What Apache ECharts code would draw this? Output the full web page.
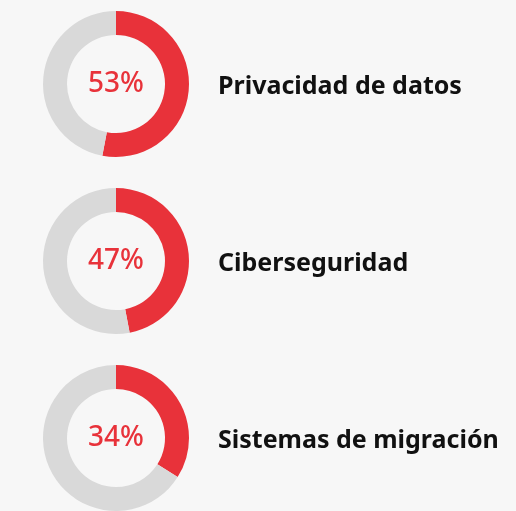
<!DOCTYPE html>
<html>
<head>
<meta charset="utf-8">
<script src="https://cdn.jsdelivr.net/npm/echarts@6/dist/echarts.min.js"></script>
<style>
  html, body { margin: 0; padding: 0; background: #f7f7f7; }
  #chart { width: 516px; height: 511px; }
</style>
</head>
<body>
<div id="chart"></div>
<script>
// temas y porcentajes
const categories = ['Privacidad de datos', 'Ciberseguridad', 'Sistemas de migración']
const values = [53, 47, 34]

const centersY = [84, 261, 438]
const red = '#e8323a'
const grey = '#d9d9d9'

const chart = echarts.init(document.getElementById('chart'))

const series = values.map((v, i) => ({
  type: 'pie',
  center: [116, centersY[i]],
  radius: [49, 73],
  startAngle: 90,
  clockwise: true,
  silent: true,
  label: { show: false },
  labelLine: { show: false },
  data: [
    {
      value: v,
      name: categories[i],
      itemStyle: { color: red },
      label: {
        show: true,
        position: 'center',
        formatter: v + '%',
        color: red,
        fontSize: 28,
        fontWeight: 500,
        fontFamily: 'Noto Sans'
      }
    },
    { value: 100 - v, name: 'resto', itemStyle: { color: grey } }
  ]
}))

const titles = categories.map((c, i) => ({
  text: c,
  left: 213,
  top: centersY[i] - 15,
  textStyle: {
    fontSize: 25,
    fontWeight: 'bold',
    fontFamily: 'Noto Sans',
    color: '#111'
  }
}))

chart.setOption({
  backgroundColor: '#f7f7f7',
  animation: false,
  title: titles,
  series: series
})
</script>
</body>
</html>
